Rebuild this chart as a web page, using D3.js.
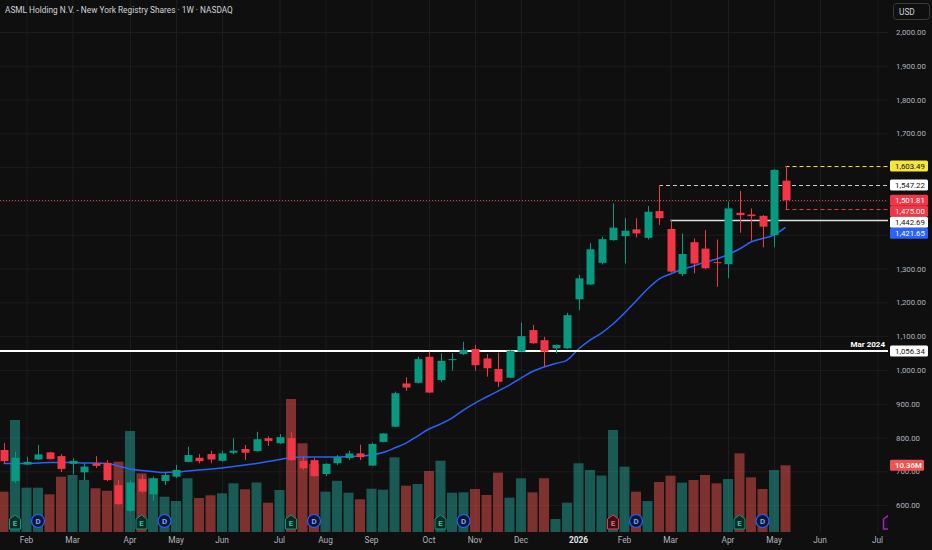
<!DOCTYPE html>
<html>
<head>
<meta charset="utf-8">
<script src="https://cdn.jsdelivr.net/npm/d3@7"></script>
<style>
  html, body { margin: 0; padding: 0; background: #0f0f0f; }
  svg { display: block; font-family: Roboto, "Noto Sans", sans-serif; }
</style>
</head>
<body>
<svg id="chart"></svg>
<script>
// weekly bars, first bar = week of 20 Jan 2025
const opens = [763, 671, 720, 735, 756, 745, 722, 697, 724, 725, 659, 583, 677, 632, 671, 684, 728, 740, 751, 731,
  755, 766, 760, 798, 783, 798, 731, 733, 692, 724, 739, 753, 717, 787, 832, 960, 962, 1039, 970, 1030,
  1047, 1062, 1034, 1003, 977, 1054, 1118, 1088, 1064, 1064, 1209, 1253, 1317, 1384, 1396, 1416, 1391, 1470, 1417, 1284,
  1378, 1359, 1319, 1313, 1465, 1460, 1456, 1399, 1560]
const highs = [784, 757, 743, 778, 758, 751, 739, 724, 745, 733, 674, 674, 689, 684, 697, 719, 773, 751, 761, 761,
  798, 778, 817, 804, 810, 817, 743, 739, 724, 748, 761, 779, 785, 813, 936, 978, 1039, 1054, 1049, 1049,
  1083, 1074, 1047, 1051, 1059, 1140, 1133, 1098, 1075, 1169, 1281, 1376, 1394, 1493, 1449, 1449, 1485, 1547.22, 1442.69, 1404,
  1389, 1414, 1386, 1498, 1530, 1478, 1458, 1594, 1603.49]
const lows = [724, 665, 719, 733, 735, 698, 691, 674, 710, 671, 600, 580, 636, 612, 659, 680, 727, 724, 724, 728,
  751, 733, 758, 775, 781, 731, 704, 684, 686, 719, 733, 733, 716, 786, 831, 938, 960, 932, 965, 998,
  1044, 998, 980, 949, 975, 1053, 1077, 1009, 1049, 1062, 1177, 1251, 1312, 1382, 1315, 1392, 1386, 1429, 1288, 1278,
  1286, 1298, 1246, 1271, 1406, 1382, 1363, 1363, 1475.00]
const closes = [730, 740, 728, 750, 736, 707, 731, 714, 716, 674, 603, 667, 640, 679, 689, 704, 748, 730, 735, 753,
  761, 755, 795, 790, 801, 733, 709, 686, 722, 742, 753, 742, 781, 812, 931, 948, 1032, 933, 1027, 1032,
  1059, 1014, 1005, 965, 1057, 1100, 1079, 1054, 1074, 1162, 1271, 1357, 1387, 1421, 1412, 1404, 1468, 1449, 1291, 1343,
  1315, 1301, 1316, 1478, 1458, 1455, 1424, 1592, 1501.81]
// volume, millions of shares
const volumes = [6.26, 17.39, 6.88, 6.88, 5.85, 8.59, 8.85, 8.07, 6.79, 6.41, 10.92, 15.68, 9.11, 8.34, 5.48, 4.81, 8.34, 5.28, 5.70, 6.01,
  7.56, 6.63, 7.69, 4.55, 6.52, 20.65, 13.77, 10.56, 6.26, 7.95, 6.10, 5.08, 6.72, 6.57, 11.60, 7.19, 7.45, 9.47, 11.07, 6.10,
  6.16, 6.68, 5.75, 9.21, 5.33, 8.34, 6.16, 8.34, 2.02, 4.55, 10.67, 9.63, 8.77, 15.84, 10.14, 6.26, 4.81, 7.76, 8.74, 7.66,
  8.07, 8.85, 7.56, 8.23, 12.22, 8.49, 6.68, 9.63, 10.36]
// moving average
const maValues = [723, 723, 723, 724.5, 726, 726, 726, 724.5, 724.5, 723, 715.6, 706.7, 702.3, 699.3, 696.4, 697.8, 700.8, 703.7, 706.7, 709.7,
  714.1, 718.5, 723, 729, 734.8, 740.7, 742.2, 742.2, 742.2, 742.2, 743.7, 745.2, 748.1, 755.5, 768.8, 783.6, 804.3, 825.1, 839.9, 857.6,
  881.3, 902, 919.8, 937.5, 955.3, 976, 995.2, 1008.6, 1018.9, 1029.3, 1061.9, 1088.5, 1109.2, 1135.9, 1168.4, 1203.9, 1239.4, 1269, 1283.8, 1297.1,
  1307.5, 1319.3, 1328.2, 1341.5, 1357.8, 1378.5, 1388.9, 1399.2, 1421.65]

const tickWeeks = [2, 6, 11, 15, 19, 24, 28, 32, 37, 41, 45, 50, 54, 58, 63, 67, 71, 76]
const tickLabels = ['Feb', 'Mar', 'Apr', 'May', 'Jun', 'Jul', 'Aug', 'Sep', 'Oct', 'Nov', 'Dec', '2026',
  'Feb', 'Mar', 'Apr', 'May', 'Jun', 'Jul']
const priceTicks = [600, 700, 800, 900, 1000, 1100, 1200, 1300, 1400, 1500, 1600, 1700, 1800, 1900, 2000]

const earningsWeeks = [1, 12, 25, 38, 53, 64]
const earningsMiss = [false, false, false, false, true, false]
const upcomingEarnings = 77
const dividendWeeks = [3, 14, 27, 40, 55, 66]

const supportLevel = 1056.34
const supportName = 'Mar 2024'
const lastHigh = 1603.49
const lastLow = 1475.00
const febHigh = 1547.22
const marHigh = 1442.69

const title = 'ASML Holding N.V. - New York Registry Shares · 1W · NASDAQ'

const width = 932
const height = 550
const plotRight = 888
const volBottom = 532

const up = '#089981'
const down = '#f23645'

const svg = d3.select('#chart')
  .attr('width', width)
  .attr('height', height)

svg.append('rect')
  .attr('width', width)
  .attr('height', height)
  .attr('fill', '#0f0f0f')

const x = d3.scaleLinear().domain([0, 76]).range([3.5, 877.5])
const y = d3.scaleLinear().domain([600, 2000]).range([505.1, 32])
const yVol = d3.scaleLinear().domain([0, d3.max(volumes)]).range([volBottom, volBottom - 133])

svg.append('clipPath').attr('id', 'plot')
  .append('rect').attr('x', 0).attr('y', 0).attr('width', plotRight).attr('height', volBottom)

const plot = svg.append('g').attr('clip-path', 'url(#plot)')

// grid
plot.selectAll('.hgrid')
  .data(priceTicks)
  .enter().append('line')
  .attr('x1', 0).attr('x2', plotRight)
  .attr('y1', d => y(d) + 0.5).attr('y2', d => y(d) + 0.5)
  .attr('stroke', '#1d1d1d')

plot.selectAll('.vgrid')
  .data(tickWeeks)
  .enter().append('line')
  .attr('x1', d => x(d) + 0.5).attr('x2', d => x(d) + 0.5)
  .attr('y1', 0).attr('y2', volBottom)
  .attr('stroke', '#1d1d1d')

const bars = closes.map((c, i) => ({ i, o: opens[i], h: highs[i], l: lows[i], c, v: volumes[i], ma: maValues[i] }))

// volume
plot.selectAll('.vol')
  .data(bars)
  .enter().append('rect')
  .attr('x', d => x(d.i) - 5)
  .attr('width', 10)
  .attr('y', d => yVol(d.v))
  .attr('height', d => volBottom - yVol(d.v))
  .attr('fill', d => d.c >= d.o ? 'rgba(38,166,154,0.5)' : 'rgba(239,83,80,0.5)')

// event markers
const markerY = 522
const eg = plot.selectAll('.earn')
  .data(earningsWeeks.map((w, k) => ({ w, miss: earningsMiss[k] })))
  .enter().append('g')
  .attr('transform', d => `translate(${x(d.w)},${markerY})`)
eg.append('path')
  .attr('d', 'M-5.5,-3 L0,-7 L5.5,-3 L5.5,7 L-5.5,7 Z')
  .attr('fill', d => d.miss ? '#3a1016' : '#0b2a24')
  .attr('stroke', d => d.miss ? down : up)
eg.append('text')
  .attr('y', 3.5)
  .attr('text-anchor', 'middle')
  .attr('font-size', 8)
  .attr('font-weight', 600)
  .attr('fill', d => d.miss ? '#ff6b78' : '#3cc5a8')
  .text('E')

plot.append('path')
  .attr('transform', `translate(${x(upcomingEarnings)},${markerY})`)
  .attr('d', 'M-5.5,-3 L0,-7 L5.5,-3 L5.5,7 L-5.5,7 Z')
  .attr('fill', '#1e0b24')
  .attr('stroke', '#9c27b0')
  .attr('stroke-width', 1.5)

const dg = plot.selectAll('.div')
  .data(dividendWeeks)
  .enter().append('g')
  .attr('transform', d => `translate(${x(d)},${markerY - 1})`)
dg.append('circle')
  .attr('r', 6.5)
  .attr('fill', '#0c1738')
  .attr('stroke', '#2962ff')
  .attr('stroke-width', 1.2)
dg.append('text')
  .attr('y', 3)
  .attr('text-anchor', 'middle')
  .attr('font-size', 8)
  .attr('font-weight', 600)
  .attr('fill', '#8aa8ff')
  .text('D')

// moving average
const maLine = d3.line()
  .x(d => x(d.i))
  .y(d => y(d.ma))
  .curve(d3.curveMonotoneX)

plot.append('path')
  .datum(bars)
  .attr('d', maLine)
  .attr('fill', 'none')
  .attr('stroke', '#2962ff')
  .attr('stroke-width', 1.5)

// horizontal drawings
plot.append('line')
  .attr('x1', 0).attr('x2', plotRight)
  .attr('y1', y(supportLevel)).attr('y2', y(supportLevel))
  .attr('stroke', '#ffffff').attr('stroke-width', 2)

const last = closes.length - 1
plot.append('line')
  .attr('x1', 0).attr('x2', plotRight)
  .attr('y1', Math.round(y(closes[last])) + 0.5).attr('y2', Math.round(y(closes[last])) + 0.5)
  .attr('stroke', down).attr('stroke-dasharray', '1,2')

const drawn = [
  { p: febHigh, from: 57, color: '#c8cad0', dash: '4,3', w: 1 },
  { p: marHigh, from: 58, color: '#e0e0e0', dash: null, w: 1.5 },
  { p: lastHigh, from: last, color: '#e8dc45', dash: '4,3', w: 1 },
  { p: lastLow, from: last, color: down, dash: '4,3', w: 1 }
]
plot.selectAll('.lvl')
  .data(drawn)
  .enter().append('line')
  .attr('x1', d => x(d.from)).attr('x2', plotRight)
  .attr('y1', d => Math.round(y(d.p)) + 0.5).attr('y2', d => Math.round(y(d.p)) + 0.5)
  .attr('stroke', d => d.color)
  .attr('stroke-width', d => d.w)
  .attr('stroke-dasharray', d => d.dash)

// candles
const candle = plot.selectAll('.candle')
  .data(bars)
  .enter().append('g')
candle.append('line')
  .attr('x1', d => Math.round(x(d.i)) + 0.5).attr('x2', d => Math.round(x(d.i)) + 0.5)
  .attr('y1', d => y(d.h)).attr('y2', d => y(d.l))
  .attr('stroke', d => d.c >= d.o ? up : down)
candle.append('rect')
  .attr('x', d => Math.round(x(d.i)) - 3.5)
  .attr('width', 8)
  .attr('y', d => y(Math.max(d.o, d.c)))
  .attr('height', d => Math.max(1, Math.abs(y(d.o) - y(d.c))))
  .attr('fill', d => d.c >= d.o ? up : down)

plot.append('text')
  .attr('x', 885).attr('y', y(supportLevel) - 4)
  .attr('text-anchor', 'end')
  .attr('font-size', 8)
  .attr('font-weight', 700)
  .attr('fill', '#ffffff')
  .text(supportName)

// title
svg.append('text')
  .attr('x', 5).attr('y', 13)
  .attr('font-size', 8.3)
  .attr('fill', '#d1d4dc')
  .text(title)

// time axis
svg.selectAll('.tlab')
  .data(tickWeeks)
  .enter().append('text')
  .attr('x', d => x(d))
  .attr('y', 543)
  .attr('text-anchor', 'middle')
  .attr('font-size', 8.3)
  .attr('font-weight', (d, k) => tickLabels[k] === '2026' ? 700 : 400)
  .attr('fill', (d, k) => tickLabels[k] === '2026' ? '#e0e3eb' : '#b2b5be')
  .text((d, k) => tickLabels[k])

// price labels on the axis, stacked so they do not overlap
const fmt = d3.format(',.2f')
const tags = [
  { p: lastHigh, bg: '#f5e63b', fg: '#131313' },
  { p: febHigh, bg: '#ffffff', fg: '#131313' },
  { p: closes[last], bg: down, fg: '#ffffff' },
  { p: lastLow, bg: '#f23645', fg: '#ffffff' },
  { p: marHigh, bg: '#ffffff', fg: '#131313' },
  { p: maValues[last], bg: '#2962ff', fg: '#ffffff' },
  { p: supportLevel, bg: '#ffffff', fg: '#131313' }
].map(t => Object.assign(t, { ty: y(t.p) }))
tags.sort((a, b) => a.ty - b.ty)
tags.forEach((t, k) => {
  if (k > 0 && t.ty < tags[k - 1].ty + 11) t.ty = tags[k - 1].ty + 11
})

// price ticks, hidden where a tag covers them
svg.selectAll('.plab')
  .data(priceTicks.filter(p => !tags.some(t => Math.abs(t.ty - y(p)) < 9)))
  .enter().append('text')
  .attr('x', 896)
  .attr('y', d => y(d) + 3)
  .attr('font-size', 7.8)
  .attr('fill', '#b2b5be')
  .text(d => fmt(d))

// volume tag
const vy = yVol(volumes[last])
svg.append('rect')
  .attr('x', 890).attr('y', vy - 5.5).attr('width', 34).attr('height', 11).attr('rx', 1.5)
  .attr('fill', '#ef5350')
svg.append('text')
  .attr('x', 895).attr('y', vy + 3)
  .attr('font-size', 7.8)
  .attr('font-weight', 500)
  .attr('fill', '#ffffff')
  .text(volumes[last].toFixed(2) + 'M')

const tg = svg.selectAll('.tag')
  .data(tags)
  .enter().append('g')
tg.append('rect')
  .attr('x', 890).attr('width', 38)
  .attr('y', d => d.ty - 5.5).attr('height', 11).attr('rx', 1.5)
  .attr('fill', d => d.bg)
tg.append('text')
  .attr('x', 895).attr('y', d => d.ty + 3)
  .attr('font-size', 7.8)
  .attr('fill', d => d.fg)
  .text(d => fmt(d.p))

// currency box
svg.append('rect')
  .attr('x', 893.5).attr('y', 3.5).attr('width', 36).attr('height', 16).attr('rx', 3)
  .attr('fill', '#0f0f0f').attr('stroke', '#3a3a3a')
svg.append('text')
  .attr('x', 899).attr('y', 14.5)
  .attr('font-size', 8.3)
  .attr('fill', '#d1d4dc')
  .text('USD')
</script>
</body>
</html>
